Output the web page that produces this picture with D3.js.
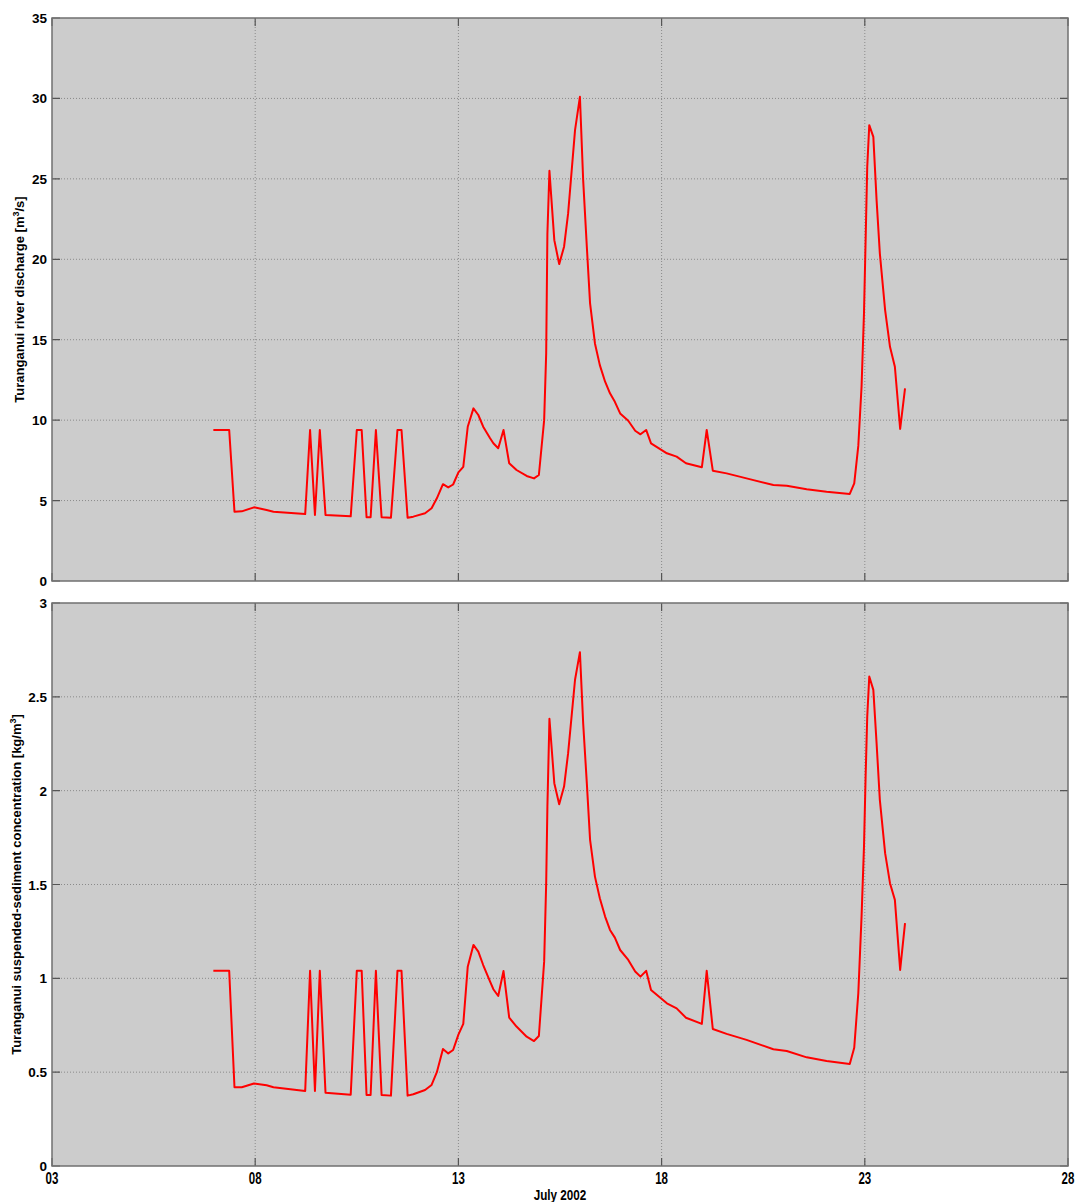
<!DOCTYPE html>
<html>
<head>
<meta charset="utf-8">
<script src="https://cdn.jsdelivr.net/npm/d3@7"></script>
<style>
  body { margin: 0; background: #fff; }
  text { font-family: "Liberation Sans", Arial, sans-serif; font-weight: bold; fill: #000; }
</style>
</head>
<body>
<div id="chart"></div>
<script>
// days of July 2002 (decimal)
var days = [6.97, 7.36, 7.49, 7.67, 7.97, 8.28, 8.45, 9.23, 9.35, 9.47, 9.59, 9.73, 10.35, 10.50, 10.62,
            10.74, 10.84, 10.97, 11.11, 11.34, 11.50, 11.60, 11.75, 11.89, 12.18, 12.34, 12.47, 12.62,
            12.75, 12.87, 13.00, 13.12, 13.23, 13.37, 13.49, 13.61, 13.78, 13.86, 13.98, 14.11, 14.25,
            14.43, 14.68, 14.86, 14.98, 15.11, 15.16, 15.19, 15.24, 15.36, 15.48, 15.60, 15.70, 15.87,
            15.99, 16.07, 16.16, 16.24, 16.36, 16.48, 16.61, 16.73, 16.85, 16.98, 17.18, 17.35, 17.48,
            17.62, 17.74, 18.13, 18.37, 18.60, 18.99, 19.11, 19.26, 19.60, 20.09, 20.75, 21.08, 21.57,
            22.06, 22.63, 22.74, 22.84, 22.92, 22.98, 23.02, 23.06, 23.11, 23.21, 23.29, 23.37, 23.50,
            23.62, 23.74, 23.87, 23.99];

// river discharge [m3/s]
var discharge = [9.39, 9.39, 4.31, 4.33, 4.58, 4.41, 4.31, 4.16, 9.39, 4.10, 9.39, 4.10, 4.02, 9.39, 9.39,
                 3.96, 3.96, 9.39, 3.96, 3.93, 9.39, 9.39, 3.93, 4.00, 4.21, 4.52, 5.14, 6.02,
                 5.82, 6.00, 6.75, 7.10, 9.59, 10.73, 10.32, 9.59, 8.87, 8.56, 8.25, 9.39, 7.32,
                 6.90, 6.53, 6.38, 6.59, 10.0, 14.15, 21.6, 25.5, 21.19, 19.70, 20.78, 22.85, 28.03,
                 30.10, 24.92, 20.78, 17.26, 14.77, 13.42, 12.39, 11.67, 11.14, 10.42, 9.96, 9.34, 9.12,
                 9.39, 8.56, 7.94, 7.73, 7.32, 7.07, 9.39, 6.86, 6.69, 6.38, 5.97, 5.92, 5.70,
                 5.55, 5.41, 6.07, 8.40, 12.08, 16.64, 21.19, 25.75, 28.34, 27.61, 23.68, 20.37, 16.84,
                 14.56, 13.32, 9.45, 11.98];

// suspended-sediment concentration [kg/m3]
var concentration = [1.04, 1.04, 0.42, 0.42, 0.44, 0.43, 0.42, 0.40, 1.04, 0.40, 1.04, 0.39, 0.38, 1.04, 1.04,
                     0.378, 0.378, 1.04, 0.378, 0.375, 1.04, 1.04, 0.375, 0.382, 0.405, 0.432, 0.50, 0.623,
                     0.60, 0.618, 0.70, 0.757, 1.062, 1.178, 1.142, 1.071, 0.982, 0.942, 0.906, 1.039, 0.791,
                     0.743, 0.689, 0.666, 0.693, 1.089, 1.507, 1.915, 2.383, 2.04, 1.928, 2.022, 2.20, 2.591,
                     2.738, 2.36, 2.04, 1.738, 1.542, 1.427, 1.329, 1.258, 1.217, 1.151, 1.098, 1.036, 1.009,
                     1.04, 0.938, 0.867, 0.84, 0.79, 0.757, 1.04, 0.73, 0.704, 0.672, 0.622, 0.613, 0.579,
                     0.56, 0.544, 0.63, 0.92, 1.329, 1.702, 2.075, 2.395, 2.608, 2.537, 2.253, 1.951, 1.667,
                     1.507, 1.418, 1.045, 1.294];

var xTicks = [3, 8, 13, 18, 23, 28];
var xTickLabels = ['03', '08', '13', '18', '23', '28'];
var topTicks = [0, 5, 10, 15, 20, 25, 30, 35];
var bottomTicks = [0, 0.5, 1, 1.5, 2, 2.5, 3];

var width = 1077, height = 1202;
var margin = {left: 52, right: 9};
var plotW = width - margin.left - margin.right;

var svg = d3.select("#chart")
  .append("svg")
  .attr("width", width)
  .attr("height", height);

var x = d3.scaleLinear().domain([3, 28]).range([margin.left, margin.left + plotW]);

draw_panel(18, 581, [0, 35], topTicks, discharge, "top");
draw_panel(603, 1166, [0, 3], bottomTicks, concentration, "bottom");

// x tick labels under bottom panel (narrow bold)
svg.selectAll("xlab")
  .data(xTicks)
  .enter()
  .append("text")
  .attr("transform", function(d){ return "translate(" + x(d) + ",1184) scale(0.72,1)"; })
  .attr("text-anchor", "middle")
  .style("font-size", "16px")
  .text(function(d, i){ return xTickLabels[i]; });

svg.append("text")
  .attr("transform", "translate(" + x(15.5) + ",1200) scale(0.78,1)")
  .attr("text-anchor", "middle")
  .style("font-size", "15px")
  .text("July 2002");

// y axis titles
var t1 = svg.append("text")
  .attr("transform", "translate(24," + (18 + 581) / 2 + ") rotate(-90)")
  .attr("text-anchor", "middle")
  .style("font-size", "13px");
t1.append("tspan").text("Turanganui river discharge [m");
t1.append("tspan").attr("dy", -5).style("font-size", "9px").text("3");
t1.append("tspan").attr("dy", 5).text("/s]");

var t2 = svg.append("text")
  .attr("transform", "translate(21," + (603 + 1166) / 2 + ") rotate(-90)")
  .attr("text-anchor", "middle")
  .style("font-size", "13px");
t2.append("tspan").text("Turanganui suspended-sediment concentration [kg/m");
t2.append("tspan").attr("dy", -5).style("font-size", "9px").text("3");
t2.append("tspan").attr("dy", 5).text("]");

function draw_panel(top, bottom, domain, ticks, values, name){
    var y = d3.scaleLinear().domain(domain).range([bottom, top]);
    var g = svg.append("g").attr("class", name);

    // grey background
    g.append("rect")
      .attr("x", x(3)).attr("y", top)
      .attr("width", x(28) - x(3)).attr("height", bottom - top)
      .style("fill", "#cccccc");

    // dotted grid
    g.selectAll("vgrid")
      .data(xTicks.slice(1, -1))
      .enter()
      .append("line")
      .attr("x1", function(d){ return x(d); }).attr("x2", function(d){ return x(d); })
      .attr("y1", top).attr("y2", bottom)
      .style("stroke", "#8a8a8a").style("stroke-width", 1).style("stroke-dasharray", "1,2");
    g.selectAll("hgrid")
      .data(ticks.slice(1, -1))
      .enter()
      .append("line")
      .attr("y1", function(d){ return y(d); }).attr("y2", function(d){ return y(d); })
      .attr("x1", x(3)).attr("x2", x(28))
      .style("stroke", "#8a8a8a").style("stroke-width", 1).style("stroke-dasharray", "1,2");

    // inward ticks on all four sides
    var tl = 8;
    g.selectAll("xtk")
      .data(xTicks)
      .enter()
      .append("path")
      .attr("d", function(d){ return "M" + x(d) + "," + bottom + "v" + (-tl) + "M" + x(d) + "," + top + "v" + tl; })
      .style("stroke", "#555").style("stroke-width", 1.2);
    g.selectAll("ytk")
      .data(ticks)
      .enter()
      .append("path")
      .attr("d", function(d){ return "M" + x(3) + "," + y(d) + "h" + tl + "M" + x(28) + "," + y(d) + "h" + (-tl); })
      .style("stroke", "#555").style("stroke-width", 1.2);

    // y tick labels
    g.selectAll("ylab")
      .data(ticks)
      .enter()
      .append("text")
      .attr("x", x(3) - 5)
      .attr("y", function(d){ return y(d) + 5; })
      .attr("text-anchor", "end")
      .style("font-size", "13.5px")
      .text(function(d){ return d; });

    // data line
    var line = d3.line()
      .x(function(d, i){ return x(days[i]); })
      .y(function(d){ return y(d); });
    g.append("path")
      .datum(values)
      .attr("d", line)
      .style("fill", "none")
      .style("stroke", "#ff0000")
      .style("stroke-width", 2)
      .style("stroke-linejoin", "round");

    // frame
    g.append("rect")
      .attr("x", x(3)).attr("y", top)
      .attr("width", x(28) - x(3)).attr("height", bottom - top)
      .style("fill", "none")
      .style("stroke", "#707070")
      .style("stroke-width", 1.5);
}
</script>
</body>
</html>
